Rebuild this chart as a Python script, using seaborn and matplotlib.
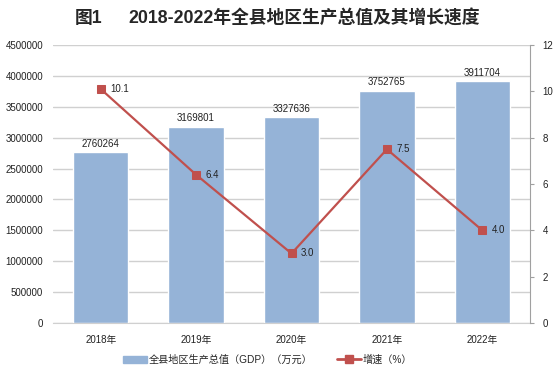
import pandas as pd
import matplotlib.pyplot as plt
import seaborn as sns

years = ["2018年", "2019年", "2020年", "2021年", "2022年"]
gdp = [2760264, 3169801, 3327636, 3752765, 3911704]
growth = [10.1, 6.4, 3.0, 7.5, 4.0]
growth_labels = ["10.1", "6.4", "3.0", "7.5", "4.0"]

sns.set_style("white")
plt.rcParams['font.family'] = ['Liberation Sans', 'Noto Sans CJK SC', 'DejaVu Sans']

df = pd.DataFrame({"year": years, "gdp": gdp, "growth": growth})

fig = plt.figure(figsize=(5.54, 3.76), dpi=100)
ax = fig.add_axes([0.0957, 0.141, 0.861, 0.7393])

bar_color = "#95B3D7"
line_color = "#C0504D"
grid_color = "#D0D0D0"
text_color = "#222222"

sns.barplot(data=df, x="year", y="gdp", color=bar_color, width=0.58,
            saturation=1, ax=ax, zorder=2)
ax.set_ylim(0, 4500000)
ax.set_yticks(range(0, 4500001, 500000))
ax.set_xlim(-0.5, 4.5)
ax.yaxis.grid(True, color=grid_color, linewidth=1, zorder=0)
ax.set_axisbelow(True)
ax.set_xlabel("")
ax.set_ylabel("")
for s in ["top", "left", "right"]:
    ax.spines[s].set_visible(False)
ax.spines["bottom"].set_color(grid_color)
ax.tick_params(axis="y", labelsize=7, length=0, pad=7, colors=text_color)
ax.tick_params(axis="x", labelsize=7, length=0, pad=9, colors=text_color)
ax.yaxis.set_major_formatter(plt.FuncFormatter(lambda v, p: f"{int(v)}"))

# bar value labels
for i, v in enumerate(gdp):
    ax.text(i, v + 60000, str(v), ha="center", va="bottom", fontsize=7, color=text_color)

ax2 = ax.twinx()
sns.lineplot(x=list(range(len(years))), y=growth, ax=ax2, color=line_color,
             linewidth=1.6, marker="s", markersize=6, markeredgecolor=line_color)
ax2.set_ylim(0, 12)
ax2.set_yticks(range(0, 13, 2))
ax2.set_xlim(-0.5, 4.5)
for s in ["top", "left", "bottom"]:
    ax2.spines[s].set_visible(False)
ax2.spines["right"].set_color("#A0A0A0")
ax2.tick_params(axis="y", labelsize=7, length=3, direction="out", colors="#A0A0A0",
                labelcolor=text_color, pad=6)

# growth labels
for i, v in enumerate(growth):
    ax2.text(i + 0.1, v, growth_labels[i], ha="left", va="center", fontsize=7, color=text_color)

fig.text(75 / 554, 0.952, "图1", ha="left", va="center", fontsize=12.8, fontweight="bold")
fig.text(128 / 554, 0.952, "2018-2022年全县地区生产总值及其增长速度",
         ha="left", va="center", fontsize=12.8, fontweight="bold")

handles = [plt.Rectangle((0, 0), 1, 1, color=bar_color),
           plt.Line2D([0], [0], color=line_color, lw=2, marker="s", markersize=6)]
fig.legend(handles, ["全县地区生产总值（GDP）（万元）", "增速（%）"],
           loc="center", bbox_to_anchor=(0.483, 0.043), ncol=2, frameon=False,
           fontsize=7.3, handlelength=2.3, columnspacing=2.5, handletextpad=0.15)

fig.savefig("out.png", dpi=100)
